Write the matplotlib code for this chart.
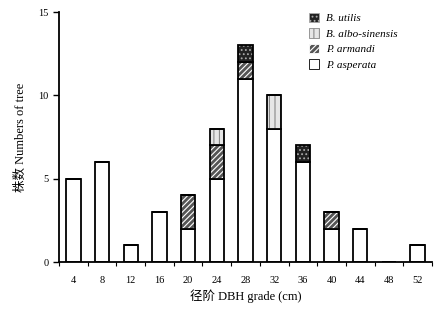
import matplotlib
matplotlib.use('Agg')
import matplotlib.pyplot as plt
import numpy as np
from matplotlib.patches import Patch

plt.rcParams['font.family'] = ['Liberation Serif', 'Noto Sans CJK SC']
plt.rcParams['hatch.linewidth'] = 0.8

grades = ['4', '8', '12', '16', '20', '24', '28', '32', '36', '40', '44', '48', '52']
asperata = [5, 6, 1, 3, 2, 5, 11, 8, 6, 2, 2, 0, 1]
armandi = [0, 0, 0, 0, 2, 2, 1, 0, 0, 1, 0, 0, 0]
albo = [0, 0, 0, 0, 0, 1, 0, 2, 0, 0, 0, 0, 0]
utilis = [0, 0, 0, 0, 0, 0, 1, 0, 1, 0, 0, 0, 0]

fig = plt.figure(figsize=(4.45, 3.11), dpi=100)
ax = fig.add_axes([59 / 445, 49 / 311, 373 / 445, 250 / 311])

x = np.arange(len(grades))
w = 0.5
bottom = np.zeros(len(grades))
# (values, facecolor, hatch colour, hatch)
series = [
    (asperata, 'white', 'white', ''),
    (armandi, '#555555', 'white', '//////'),
    (albo, '#e6e6e6', '#888888', '|||'),
    (utilis, '#222222', '#aaaaaa', '....'),
]
for vals, fc, hc, hatch in series:
    vals = np.array(vals, dtype=float)
    ax.bar(x, vals, w, bottom=bottom, color=fc, edgecolor=hc, hatch=hatch, linewidth=0)
    ax.bar(x, vals, w, bottom=bottom, fill=False, edgecolor='black', linewidth=1.3)
    bottom += vals

ax.set_xlim(-0.5, len(grades) - 0.5)
ax.set_ylim(0, 15)
ax.set_yticks([0, 5, 10, 15])
ax.set_xticks(x)
ax.set_xticklabels(grades)
ax.set_xticks(np.arange(-0.5, len(grades), 1), minor=True)
ax.tick_params(axis='x', which='major', length=0, labelsize=7.5, pad=10)
ax.tick_params(axis='x', which='minor', length=3, direction='out', width=0.8)
ax.tick_params(axis='y', length=4, direction='out', labelsize=7.5, width=1)
ax.spines['top'].set_visible(False)
ax.spines['right'].set_visible(False)
ax.spines['left'].set_linewidth(1.3)
ax.spines['bottom'].set_linewidth(1.3)

ax.set_xlabel('径阶 DBH grade (cm)', fontsize=9, labelpad=3)
ax.set_ylabel('株数 Numbers of tree', fontsize=9, labelpad=8)

handles = [
    Patch(facecolor='#222222', edgecolor='#aaaaaa', hatch='....', label='B. utilis'),
    Patch(facecolor='#e6e6e6', edgecolor='#888888', hatch='|||', label='B. albo-sinensis'),
    Patch(facecolor='#555555', edgecolor='white', hatch='//////', label='P. armandi'),
    Patch(facecolor='white', edgecolor='black', label='P. asperata'),
]
leg = fig.legend(handles=handles, loc='upper left', bbox_to_anchor=(299 / 445, 1 - 3 / 311), frameon=False,
                 prop={'style': 'italic', 'size': 8}, handlelength=0.9, handleheight=0.9,
                 handletextpad=0.6, labelspacing=0.45)
for p in leg.get_patches():
    p.set_linewidth(0.6)

fig.savefig('out.png', dpi=100)
